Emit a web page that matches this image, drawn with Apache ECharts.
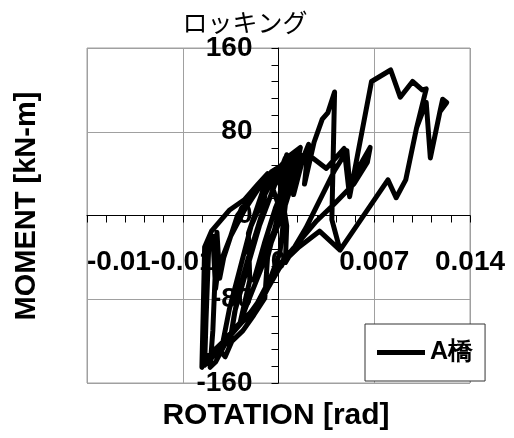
<!DOCTYPE html>
<html>
<head>
<meta charset="utf-8">
<script src="https://cdn.jsdelivr.net/npm/echarts@6/dist/echarts.min.js"></script>
<style>
html,body{margin:0;padding:0;background:#fff;}
#c{width:514px;height:438px;}
</style>
</head>
<body>
<div id="c"></div>
<script>
// Rotation [rad] and moment [kN-m] (one continuous path)
const rotation = [
0,0.0006,0.0011,0.0005,-0.0005,-0.0012,-0.0018,-0.0010,-0.0002,0.0008,0.0014,0.0009,0.0000,-0.0013,-0.0024,-0.0028,-0.0021,-0.0022,-0.0008,-0.0012,
-0.0022,-0.0030,-0.0036,-0.0032,-0.0024,-0.0014,-0.0004,0.0005,0.0008,0.0002,-0.0008,-0.0010,-0.0018,-0.0026,-0.0034,-0.0039,-0.0042,-0.0036,-0.0028,-0.0020,
-0.0010,0.0000,0.0009,0.0016,0.0012,0.0005,0.0001,-0.0006,-0.0016,-0.0025,-0.0032,-0.0040,-0.0046,-0.0050,-0.0048,-0.0045,-0.0043,-0.0040,-0.0030,-0.0020,
-0.0010,0.0000,0.0006,0.0005,0.0020,0.0041,0.0050,0.0052,0.0056,0.0067,0.0065,0.0055,0.0040,0.0028,0.0015,0.0002,-0.0010,-0.0022,-0.0032,-0.0042,
-0.0050,-0.0054,-0.0053,-0.0051,-0.0048,-0.0046,-0.0044,-0.0035,-0.0025,-0.0015,-0.0005,0.0005,0.0015,0.0025,0.0035,0.0048,0.0052,0.0068,0.0082,0.0089,
0.0098,0.0105,0.0108,0.0101,0.0093,0.0086,0.0080,0.0045,0.0030,0.0015,0.0003,-0.0008,-0.0020,-0.0030,-0.0040,-0.0052,-0.0056,-0.0055,-0.0054,-0.0049,
-0.0036,-0.0025,-0.0015,-0.0008,0.0000,0.0004,0.0006,0.0005,0.0010,0.0013,0.0011,0.0018,0.0022,0.0019,0.0026,0.0032,0.0036,0.0041,0.0039,0.0045,
0.0080,0.0086,0.0093,0.0101,0.0108,0.0111,0.0118,0.0120,0.0123,0.0118
];
const moment = [
0,22,35,10,-20,-45,-62,-25,8,40,52,28,-8,-52,-88,-102,-62,-17,37,2,
-40,-78,-124,-92,-55,-10,25,55,48,12,-40,-79,-95,-110,-120,-135,-130,-90,-50,-10,
20,45,58,65,40,10,-36,-60,-85,-100,-108,-125,-140,-145,-110,-16,-60,-40,0,18,
32,40,-10,-45,-12,43,62,30,40,65,51,30,10,-5,-25,-45,-75,-95,-110,-125,
-138,-143,-100,-30,-20,-70,-50,-20,5,25,42,50,58,55,45,64,18,128,139,113,
128,120,121,84,34,17,34,-33,-15,-30,-45,-70,-92,-105,-120,-135,-145,-90,-30,-15,
5,15,30,40,10,48,58,25,50,60,20,55,68,30,70,92,98,118,-4,-33,
34,17,34,84,108,55,99,111,108,99
];
const xTickLabels = ['-0.01', '-0.01', '0', '0.007', '0.014'];
const yTickLabels = ['-160', '-80', '0', '80', '160'];
const seriesName = 'A橋';
const chartTitle = 'ロッキング';
const xTitle = 'ROTATION [rad]';
const yTitle = 'MOMENT [kN-m]';

const points = rotation.map((r, i) => [r, moment[i]]);

const chart = echarts.init(document.getElementById('c'), null, {renderer: 'canvas'});
const labelFont = {fontFamily: 'Liberation Sans, Arial, sans-serif', fontWeight: 'bold', fontSize: 28, color: '#000'};
// grid: 383 x 335 px; ranges are symmetric, so the zero lines sit in the middle
const gridW = 383, gridH = 335;
chart.setOption({
  animation: false,
  backgroundColor: '#fff',
  grid: {left: 87, right: 44, top: 48, bottom: 55, show: true, borderColor: '#a0a0a0', borderWidth: 1, outerBoundsMode: 'none'},
  xAxis: {
    type: 'value', min: -0.014, max: 0.014, interval: 0.007,
    position: 'bottom', offset: -gridH / 2,
    axisLine: {onZero: false, lineStyle: {color: '#000', width: 1}},
    axisTick: {show: true, length: 7, lineStyle: {color: '#000'}},
    minorTick: {show: true, splitNumber: 5, length: 7, lineStyle: {color: '#000'}},
    splitLine: {show: true, lineStyle: {color: '#a0a0a0', width: 1}},
    axisLabel: Object.assign({margin: 33, showMinLabel: true, showMaxLabel: true, alignMinLabel: 'left',
      formatter: (v, i) => xTickLabels[i]}, labelFont)
  },
  yAxis: {
    type: 'value', min: -160, max: 160, interval: 80,
    position: 'left', offset: -gridW / 2,
    axisLine: {onZero: false, lineStyle: {color: '#000', width: 1}},
    axisTick: {show: true, length: 7, lineStyle: {color: '#000'}},
    minorTick: {show: true, splitNumber: 5, length: 7, lineStyle: {color: '#000'}},
    splitLine: {show: true, lineStyle: {color: '#a0a0a0', width: 1}},
    axisLabel: Object.assign({margin: 26, showMinLabel: true, showMaxLabel: true,
      formatter: (v, i) => yTickLabels[i]}, labelFont)
  },
  legend: {
    show: true, left: 365, top: 324, orient: 'horizontal',
    padding: [16, 12, 16, 12], itemWidth: 48, itemHeight: 5, icon: 'rect',
    itemStyle: {color: '#000'},
    borderColor: '#333', borderWidth: 1, backgroundColor: '#fff',
    textStyle: {fontFamily: 'Liberation Sans, Arial, sans-serif', fontWeight: 'bold', fontSize: 25, color: '#000'},
    data: [seriesName]
  },
  graphic: [
    {type: 'text', position: [245, 22], style: {text: chartTitle, x: 0, y: 0, textAlign: 'center', textVerticalAlign: 'middle',
      font: 'normal 25px "Noto Sans CJK JP"', fill: '#000'}},
    {type: 'text', position: [276, 416], style: {text: xTitle, x: 0, y: 0, textAlign: 'center', textVerticalAlign: 'middle',
      font: 'bold 30px "Liberation Sans", Arial, sans-serif', fill: '#000'}},
    {type: 'text', position: [27, 206], rotation: Math.PI / 2, style: {text: yTitle, x: 0, y: 0, textAlign: 'center', textVerticalAlign: 'middle',
      font: 'bold 29px "Liberation Sans", Arial, sans-serif', fill: '#000'}}
  ],
  series: [{
    name: seriesName, type: 'line', data: points, showSymbol: false, symbol: 'none',
    lineStyle: {color: '#000', width: 5, cap: 'round', join: 'round'},
    itemStyle: {color: '#000'},
    z: 3
  }]
});
</script>
</body>
</html>
